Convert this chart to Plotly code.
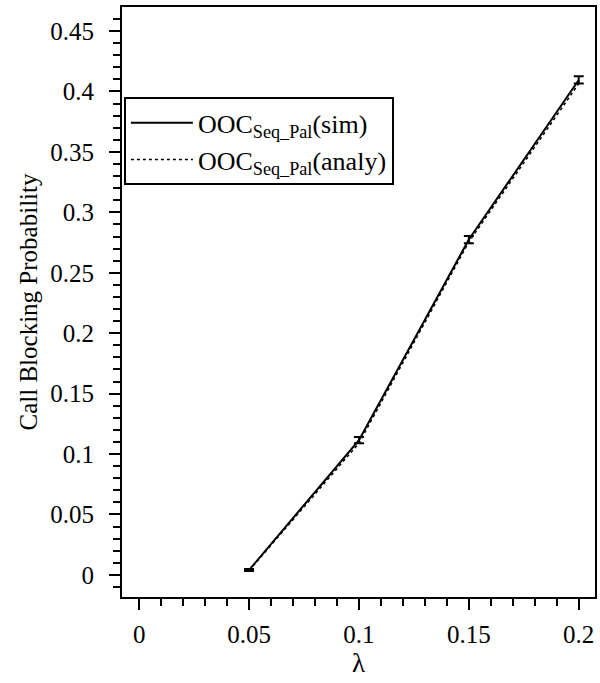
import plotly.graph_objects as go

# Arrival rate values and call blocking probabilities
lam = [0.05, 0.10, 0.15, 0.20]
sim_block = [0.004, 0.1115, 0.2775, 0.4095]
sim_err = [0.0008, 0.0025, 0.003, 0.003]
analy_block = [0.0035, 0.109, 0.2755, 0.4065]

x_ticks = [0, 0.05, 0.1, 0.15, 0.2]
x_tick_text = ["0", "0.05", "0.1", "0.15", "0.2"]
y_ticks = [0, 0.05, 0.1, 0.15, 0.2, 0.25, 0.3, 0.35, 0.4, 0.45]
y_tick_text = ["0", "0.05", "0.1", "0.15", "0.2", "0.25", "0.3", "0.35", "0.4", "0.45"]

FONT = "Liberation Serif"

fig = go.Figure()
fig.add_trace(go.Scatter(
    x=lam, y=sim_block, mode="lines",
    name="OOC<sub>Seq_Pal</sub>(sim)",
    line=dict(color="black", width=2),
    error_y=dict(type="data", array=sim_err, color="black", thickness=2, width=5),
))
fig.add_trace(go.Scatter(
    x=lam, y=analy_block, mode="lines",
    name="OOC<sub>Seq_Pal</sub>(analy)",
    line=dict(color="black", width=1.5, dash="dot"),
))

axis_style = dict(
    showline=True, linecolor="black", linewidth=2, mirror=True,
    showgrid=False, zeroline=False,
    ticks="outside", ticklen=11, tickwidth=2, tickcolor="black",
    tickfont=dict(family=FONT, size=25, color="black"),
    tickmode="array",
)

fig.update_layout(
    width=600, height=683,
    margin=dict(l=122, r=3, t=7, b=86),
    paper_bgcolor="white", plot_bgcolor="white",
    font=dict(family=FONT, size=25, color="black"),
    showlegend=True,
    legend=dict(
        x=0.004, y=0.847, xanchor="left", yanchor="top",
        bgcolor="white", bordercolor="black", borderwidth=2,
        font=dict(family=FONT, size=26, color="black"),
        tracegroupgap=0, itemwidth=62,
    ),
    xaxis=dict(
        **axis_style,
        range=[-0.0078, 0.2074],
        tickvals=x_ticks, ticktext=x_tick_text,
        minor=dict(dtick=0.01, ticks="outside", ticklen=7, tickwidth=2, tickcolor="black"),
        ticklabelstandoff=3,
        title=dict(text="λ", font=dict(family=FONT, size=27, color="black"), standoff=0),
    ),
    yaxis=dict(
        **axis_style,
        range=[-0.0183, 0.4699],
        tickvals=y_ticks, ticktext=y_tick_text,
        minor=dict(dtick=0.01, ticks="outside", ticklen=7, tickwidth=2, tickcolor="black"),
        ticklabelstandoff=10,
        title=dict(text="Call Blocking Probability", font=dict(family=FONT, size=25, color="black"), standoff=6),
    ),
)

fig.write_html("out.html")
